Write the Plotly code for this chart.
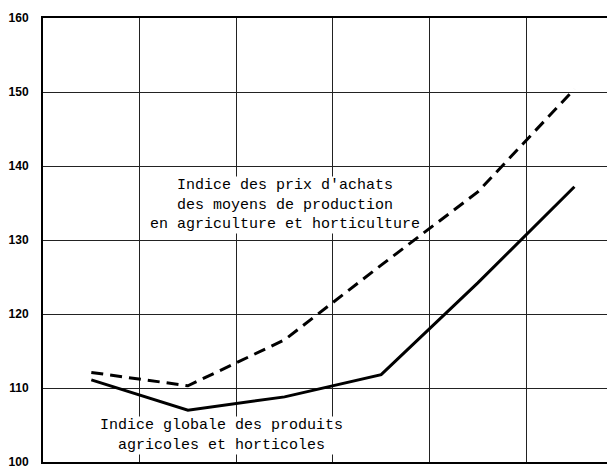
import plotly.graph_objects as go

# x = middle of each grid interval (6 periods)
periods = [0.5, 1.5, 2.5, 3.5, 4.5, 5.5]
prix_achats = [112.1, 110.3, 116.5, 126.6, 136.5, 150.4]
produits = [111.1, 107.0, 108.8, 111.8, 124.2, 137.2]
y_ticks = [100, 110, 120, 130, 140, 150, 160]

fig = go.Figure()
fig.add_trace(go.Scatter(x=periods, y=prix_achats, mode='lines',
                         line=dict(color='black', width=3, dash='12px,7px')))
fig.add_trace(go.Scatter(x=periods, y=produits, mode='lines',
                         line=dict(color='black', width=3)))

mono = dict(family='Liberation Mono, DejaVu Sans Mono, monospace', size=15, color='black')
fig.add_annotation(x=2.5, y=134.7, xref='x', yref='y', showarrow=False, align='center',
                   text="Indice des prix d'achats<br>des moyens de production<br>en agriculture et horticulture",
                   font=mono, bgcolor='white', borderpad=0)
fig.add_annotation(x=1.85, y=103.6, xref='x', yref='y', showarrow=False, align='center',
                   text='Indice globale des produits<br>agricoles et horticoles',
                   font=mono, bgcolor='white', borderpad=0)

fig.update_xaxes(range=[0, 5.92], tickvals=[0, 1, 2, 3, 4, 5, 6], showticklabels=False,
                 showgrid=True, gridcolor='#222', gridwidth=1, zeroline=False,
                 showline=True, linecolor='black', linewidth=2, mirror=True,
                 automargin=False)
fig.update_yaxes(range=[100, 160], tickvals=y_ticks, showgrid=True, gridcolor='#222',
                 gridwidth=1, zeroline=False, showline=True, linecolor='black', linewidth=2,
                 ticklabelstandoff=10, automargin=False, ticklabeloverflow='allow',
                 tickfont=dict(family='Liberation Sans, Arial, sans-serif',
                               size=12, color='black', weight='bold'))
# page body adds 8px, so the figure is sized to sit inside the 615x466 window
fig.update_layout(width=607, height=458, showlegend=False,
                  plot_bgcolor='white', paper_bgcolor='white',
                  margin=dict(l=35, r=0, t=10, b=4))
fig.write_html('out.html')
